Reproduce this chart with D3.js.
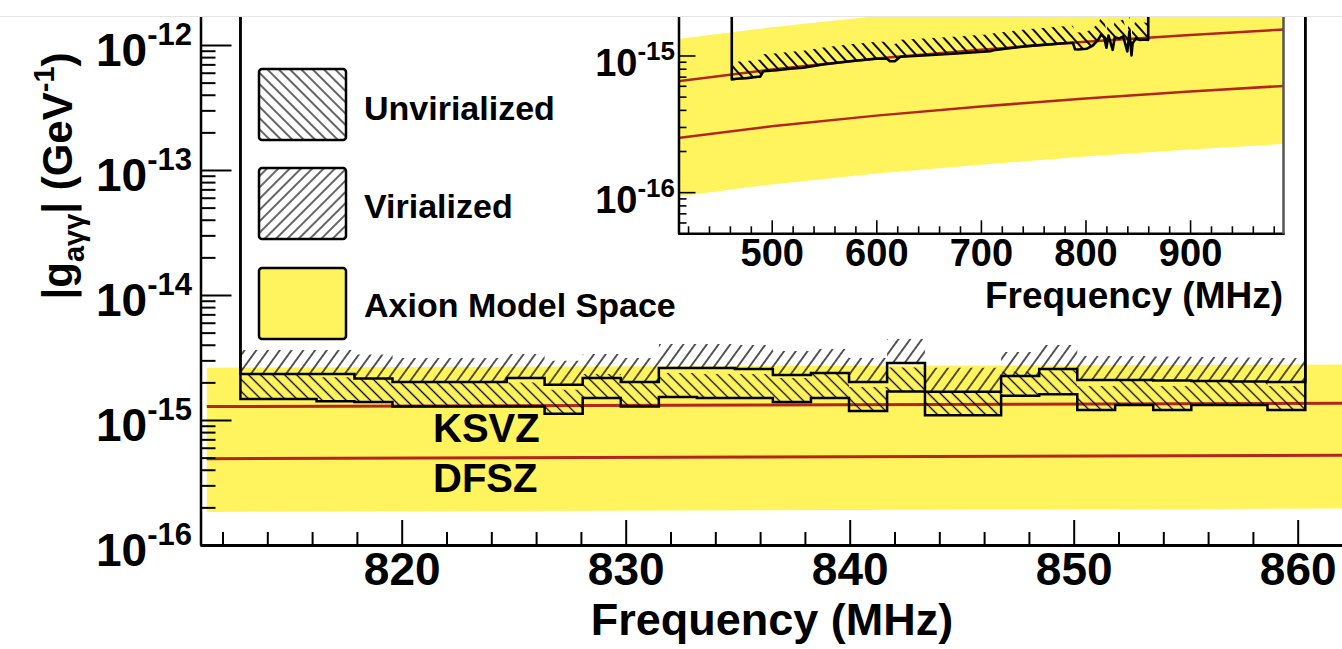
<!DOCTYPE html>
<html><head><meta charset="utf-8">
<script src="https://cdn.jsdelivr.net/npm/d3@7"></script>
<style>
html,body{margin:0;padding:0;background:#fff;}
svg{display:block;font-family:"Liberation Sans",Arial,Helvetica,sans-serif;font-weight:bold;}
</style></head><body>
<svg id="chart" width="1342" height="649"></svg>
<script>
// ---------------- DATA ----------------
// main plot: exclusion limits in bins (MHz edges), |g| in GeV^-1
const mainBinEdges = [812.80, 814.50, 816.20, 817.89, 819.59, 821.29, 822.99, 824.69, 826.38, 828.08,
  829.78, 831.48, 833.18, 834.87, 836.57, 838.27, 839.97, 841.67, 843.36, 845.06, 846.76, 848.46,
  850.16, 851.85, 853.55, 855.25, 856.95, 858.65, 860.34];
const virializedLimit = [2.33e-15, 2.33e-15, 2.33e-15, 2.15e-15, 2.01e-15, 2.01e-15, 2.01e-15, 2.17e-15,
  1.91e-15, 2.17e-15, 2.01e-15, 2.61e-15, 2.61e-15, 2.56e-15, 2.29e-15, 2.38e-15, 2.01e-15, 2.86e-15,
  1.68e-15, 1.68e-15, 2.25e-15, 2.56e-15, 2.09e-15, 2.09e-15, 2.07e-15, 2.05e-15, 2.03e-15, 2.01e-15];
const unvirializedLimit = [1.47e-15, 1.47e-15, 1.41e-15, 1.39e-15, 1.28e-15, 1.28e-15, 1.28e-15, 1.28e-15,
  1.12e-15, 1.50e-15, 1.28e-15, 1.53e-15, 1.50e-15, 1.50e-15, 1.39e-15, 1.50e-15, 1.18e-15, 1.69e-15,
  1.09e-15, 1.09e-15, 1.56e-15, 1.61e-15, 1.20e-15, 1.32e-15, 1.20e-15, 1.32e-15, 1.32e-15, 1.20e-15];
// main plot: axion model band and model lines
const mainModelFreq  = [811.3, 836, 862];
const mainBandTop    = [2.62e-15, 2.70e-15, 2.78e-15];
const mainBandBottom = [1.84e-16, 1.90e-16, 1.96e-16];
const mainKSVZ       = [1.28e-15, 1.32e-15, 1.36e-15];
const mainDFSZ       = [4.90e-16, 5.06e-16, 5.22e-16];
const mainXTicks = [820, 830, 840, 850, 860];
const mainYTickExps = [-16, -15, -14, -13, -12];

// inset: wide-range limit
const insetLimitFreq = [461.8, 466.5, 476, 487, 489, 492, 505, 517.5, 530, 549, 575, 600, 610, 613, 618,
  623, 645, 677, 709, 712, 744, 776, 788, 790, 793, 801, 807, 812, 815, 818, 820, 822, 826, 828, 832,
  836, 840, 842, 844, 845, 848, 852, 856, 860];
const insetLimit = [6.67e-16, 6.75e-16, 6.83e-16, 6.98e-16, 7.0e-16, 7.67e-16, 7.8e-16, 8.0e-16, 8.13e-16,
  8.59e-16, 9.08e-16, 9.46e-16, 9.46e-16, 9.08e-16, 9.1e-16, 9.78e-16, 1.0e-15, 1.034e-15, 1.075e-15,
  1.093e-15, 1.17e-15, 1.224e-15, 1.238e-15, 1.11e-15, 1.106e-15, 1.119e-15, 1.183e-15, 1.30e-15,
  1.42e-15, 1.35e-15, 1.14e-15, 1.40e-15, 1.10e-15, 1.36e-15, 1.33e-15, 1.38e-15, 1.07e-15, 1.50e-15,
  1.0e-15, 1.22e-15, 1.33e-15, 1.30e-15, 1.31e-15, 1.30e-15];
const insetModelFreq  = [410, 500, 600, 700, 800, 900, 990];
const insetBandTop    = [1.32e-15, 1.61e-15, 1.94e-15, 2.26e-15, 2.58e-15, 2.90e-15, 3.19e-15];
const insetBandBottom = [9.3e-17, 1.14e-16, 1.37e-16, 1.59e-16, 1.82e-16, 2.05e-16, 2.25e-16];
const insetKSVZ       = [6.48e-16, 7.9e-16, 9.5e-16, 1.10e-15, 1.26e-15, 1.41e-15, 1.55e-15];
const insetDFSZ       = [2.49e-16, 3.03e-16, 3.63e-16, 4.24e-16, 4.84e-16, 5.45e-16, 5.99e-16];
const insetXTicks = [500, 600, 700, 800, 900];
const insetYTickExps = [-16, -15];

const legendLabels = ["Unvirialized", "Virialized", "Axion Model Space"];
const modelLabels = ["KSVZ", "DFSZ"];

// ---------------- STYLE ----------------
const YELLOW = "#fff45e", RED = "#b3261e";
const svg = d3.select("#chart");
const defs = svg.append("defs");
function hatch(id, angle, w, sw) {
  const p = defs.append("pattern").attr("id", id).attr("patternUnits", "userSpaceOnUse")
    .attr("width", w).attr("height", w).attr("patternTransform", `rotate(${angle})`);
  p.append("line").attr("x1", w / 2).attr("y1", -1).attr("x2", w / 2).attr("y2", w + 1)
    .attr("stroke", "#000").attr("stroke-width", sw);
}
hatch("hatchFwd", 45, 8, 1.2);     // legend "///"
hatch("hatchBack", -45, 8, 1.2);   // legend "\\\"
hatch("mainFwd", 36, 9.5, 1.3);    // main plot "///"
hatch("mainBack", -45, 8.5, 1.3);  // main plot "\\\"
hatch("insetBack", -42, 8, 1.9);   // inset "\\\"
defs.append("clipPath").attr("id", "mainClip").append("rect")
  .attr("x", 200).attr("y", 17).attr("width", 1143).attr("height", 528);
defs.append("clipPath").attr("id", "insetClip").append("rect")
  .attr("x", 678).attr("y", 17).attr("width", 606).attr("height", 216);
defs.append("clipPath").attr("id", "topClip").append("rect")
  .attr("x", 0).attr("y", 17).attr("width", 1342).attr("height", 640);

// ---------------- MAIN SCALES ----------------
const xM = d3.scaleLinear().domain([811, 862]).range([200.1, 1342.5]);
const yM = d3.scaleLog().domain([1e-16, 1e-11]).range([545, -80]);

const gm = svg.append("g").attr("clip-path", "url(#mainClip)");
const mainModel = mainModelFreq.map((f, i) => ({f, top: mainBandTop[i], bot: mainBandBottom[i], k: mainKSVZ[i], d: mainDFSZ[i]}));
gm.append("path").datum(mainModel).attr("fill", YELLOW)
  .attr("d", d3.area().x(d => xM(d.f)).y0(d => yM(d.bot)).y1(d => yM(d.top)));
gm.append("path").datum(mainModel).attr("fill", "none").attr("stroke", RED).attr("stroke-width", 3)
  .attr("d", d3.line().x(d => xM(d.f)).y(d => yM(d.k)));
gm.append("path").datum(mainModel).attr("fill", "none").attr("stroke", RED).attr("stroke-width", 3)
  .attr("d", d3.line().x(d => xM(d.f)).y(d => yM(d.d)));

function stepPts(edges, vals) {
  const p = vals.map((v, i) => ({f: edges[i], g: v}));
  p.push({f: edges[edges.length - 1], g: vals[vals.length - 1]});
  return p;
}
const band = (w) => d3.area().curve(d3.curveStepAfter).x(d => xM(d.f)).y0(d => yM(d.g)).y1(d => yM(d.g) - w);
gm.append("path").datum(stepPts(mainBinEdges, virializedLimit)).attr("fill", "url(#mainFwd)").attr("d", band(24));
gm.append("path").datum(stepPts(mainBinEdges, unvirializedLimit)).attr("fill", "url(#mainBack)").attr("d", band(24));
const stepLine = d3.line().curve(d3.curveStepAfter).x(d => xM(d.f)).y(d => yM(d.g));
[virializedLimit, unvirializedLimit].forEach(vals => {
  const p = stepPts(mainBinEdges, vals);
  p.unshift({f: mainBinEdges[0], g: 1e-11});
  p.push({f: mainBinEdges[mainBinEdges.length - 1], g: 1e-11});
  gm.append("path").datum(p).attr("fill", "none").attr("stroke", "#000").attr("stroke-width", 2.5)
    .attr("d", stepLine);
});

// model labels
gm.append("text").attr("x", 433).attr("y", 442).attr("font-size", 40).text(modelLabels[0]);
gm.append("text").attr("x", 433).attr("y", 492).attr("font-size", 40).text(modelLabels[1]);

// ---------------- MAIN AXES ----------------
const isMajor = v => Math.abs(Math.log10(v) - Math.round(Math.log10(v))) < 1e-6;
const axG = svg.append("g").attr("clip-path", "url(#topClip)");
const xMinor = d3.range(812, 862.1, 2).filter(v => v % 10 !== 0);
axG.append("g").attr("transform", "translate(0,545)")
  .call(d3.axisBottom(xM).tickValues(xMinor).tickSize(-13).tickSizeOuter(0).tickFormat(""))
  .call(s => s.select(".domain").remove());
const xAx = axG.append("g").attr("transform", "translate(0,545)")
  .call(d3.axisBottom(xM).tickValues(mainXTicks).tickSize(-25).tickSizeOuter(0).tickPadding(7).tickFormat(d3.format("d")));
xAx.selectAll("text").attr("font-size", 46).attr("font-family", "Liberation Sans, Arial, sans-serif").attr("font-weight", "bold").attr("fill", "#000");
xAx.select(".domain").attr("stroke-width", 3);
const yTicksAll = yM.ticks();
axG.append("g").attr("transform", "translate(200.5,0)")
  .call(d3.axisLeft(yM).tickValues(yTicksAll.filter(v => !isMajor(v))).tickSize(-15).tickSizeOuter(0).tickFormat(""))
  .call(s => s.select(".domain").remove());
axG.append("g").attr("transform", "translate(200.5,0)")
  .call(d3.axisLeft(yM).tickValues(yTicksAll.filter(isMajor)).tickSize(-31).tickSizeOuter(0).tickFormat(""))
  .select(".domain").attr("stroke-width", 2.5);
axG.selectAll(".tick line").attr("stroke-width", 2);
mainYTickExps.forEach(e => {
  const t = svg.append("text").attr("x", 192).attr("y", yM(Math.pow(10, e)) + 21).attr("text-anchor", "end");
  t.append("tspan").attr("font-size", 46).text("10");
  t.append("tspan").attr("font-size", 31).attr("dy", -21).text(String(e));
});
svg.append("text").attr("x", 772).attr("y", 635).attr("text-anchor", "middle").attr("font-size", 45).text("Frequency (MHz)");
const yt = svg.append("text").attr("transform", "translate(72,176) rotate(-90)").attr("text-anchor", "middle").attr("font-size", 42);
yt.append("tspan").text("|g");
yt.append("tspan").attr("font-size", 29).attr("dy", 12).text("aγγ");
yt.append("tspan").attr("dy", -12).text("| (GeV");
yt.append("tspan").attr("font-size", 29).attr("dy", -18).text("-1");
yt.append("tspan").attr("dy", 18).text(")");

// ---------------- LEGEND ----------------
const legendFills = ["url(#hatchBack)", "url(#hatchFwd)", YELLOW];
const legendY = [69, 168, 268];
const legendBase = [120, 218, 317];
legendLabels.forEach((lab, i) => {
  svg.append("rect").attr("x", 259).attr("y", legendY[i]).attr("width", 87).attr("height", 71)
    .attr("rx", 3).attr("fill", legendFills[i]).attr("stroke", "#000").attr("stroke-width", 2.5);
  svg.append("text").attr("x", 364).attr("y", legendBase[i]).attr("font-size", 34).text(lab);
});

// ---------------- INSET ----------------
const xI = d3.scaleLinear().domain([410, 990]).range([677.6, 1284.2]);
const yI = d3.scaleLog().domain([5e-17, 1e-14]).range([233.3, -81.2]);
const gi = svg.append("g").attr("clip-path", "url(#insetClip)");
const insetModel = insetModelFreq.map((f, i) => ({f, top: insetBandTop[i], bot: insetBandBottom[i], k: insetKSVZ[i], d: insetDFSZ[i]}));
gi.append("path").datum(insetModel).attr("fill", YELLOW)
  .attr("d", d3.area().x(d => xI(d.f)).y0(d => yI(d.bot)).y1(d => yI(d.top)));
gi.append("path").datum(insetModel).attr("fill", "none").attr("stroke", RED).attr("stroke-width", 2.5)
  .attr("d", d3.line().x(d => xI(d.f)).y(d => yI(d.k)));
gi.append("path").datum(insetModel).attr("fill", "none").attr("stroke", RED).attr("stroke-width", 2.5)
  .attr("d", d3.line().x(d => xI(d.f)).y(d => yI(d.d)));
const insetPts = insetLimitFreq.map((f, i) => ({f, g: insetLimit[i]}));
gi.append("path").datum(insetPts).attr("fill", "url(#insetBack)")
  .attr("d", d3.area().x(d => xI(d.f)).y0(d => yI(d.g)).y1(d => yI(d.g) - 17));
const insetLinePts = [{f: insetLimitFreq[0], g: 1e-14}, ...insetPts, {f: insetLimitFreq[insetLimitFreq.length - 1], g: 1e-14}];
gi.append("path").datum(insetLinePts).attr("fill", "none").attr("stroke", "#000").attr("stroke-width", 2.6)
  .attr("stroke-linejoin", "round").attr("d", d3.line().x(d => xI(d.f)).y(d => yI(d.g)));

const iax = svg.append("g").attr("clip-path", "url(#topClip)");
const xIMinor = d3.range(420, 990, 20).filter(v => v % 100 !== 0);
iax.append("g").attr("transform", "translate(0,233.3)")
  .call(d3.axisBottom(xI).tickValues(xIMinor).tickSize(-7).tickSizeOuter(0).tickFormat(""))
  .call(s => s.select(".domain").remove());
const xIA = iax.append("g").attr("transform", "translate(0,233.3)")
  .call(d3.axisBottom(xI).tickValues(insetXTicks).tickSize(-13).tickSizeOuter(0).tickPadding(6).tickFormat(d3.format("d")));
xIA.selectAll("text").attr("font-size", 38).attr("font-family", "Liberation Sans, Arial, sans-serif").attr("font-weight", "bold").attr("fill", "#000");
xIA.select(".domain").attr("stroke-width", 2.5);
const yITicks = yI.ticks();
iax.append("g").attr("transform", "translate(678.5,0)")
  .call(d3.axisLeft(yI).tickValues(yITicks.filter(v => !isMajor(v))).tickSize(-8).tickSizeOuter(0).tickFormat(""))
  .call(s => s.select(".domain").remove());
iax.append("g").attr("transform", "translate(678.5,0)")
  .call(d3.axisLeft(yI).tickValues(yITicks.filter(isMajor)).tickSize(-17).tickSizeOuter(0).tickFormat(""))
  .select(".domain").attr("stroke-width", 2.5);
iax.selectAll(".tick line").attr("stroke-width", 1.6);
iax.append("line").attr("x1", 1283.5).attr("x2", 1283.5).attr("y1", 0).attr("y2", 234)
  .attr("stroke", "#555").attr("stroke-width", 2.5);
insetYTickExps.forEach(e => {
  const t = svg.append("text").attr("x", 675).attr("y", yI(Math.pow(10, e)) + 21).attr("text-anchor", "end");
  t.append("tspan").attr("font-size", 38).text("10");
  t.append("tspan").attr("font-size", 26).attr("dy", -16).text(String(e));
});
svg.append("text").attr("x", 1283).attr("y", 308).attr("text-anchor", "end").attr("font-size", 37).text("Frequency (MHz)");

// top page edge
svg.append("rect").attr("x", 0).attr("y", 0).attr("width", 1342).attr("height", 16).attr("fill", "#fff");
svg.append("line").attr("x1", 0).attr("x2", 1342).attr("y1", 16.5).attr("y2", 16.5).attr("stroke", "#e4e4e4").attr("stroke-width", 1);
</script>
</body></html>
